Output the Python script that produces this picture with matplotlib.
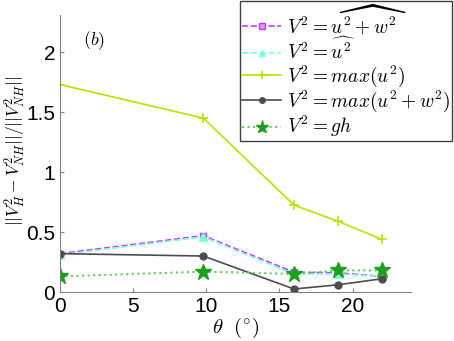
import matplotlib
matplotlib.use("Agg")
import matplotlib.pyplot as plt

plt.rcParams['mathtext.fontset'] = 'cm'
plt.rcParams['font.family'] = 'Liberation Sans'

theta = [0, 9.8, 16, 19, 22]
err_uw_mean = [0.32, 0.47, 0.165, 0.16, 0.13]
err_u_mean = [0.31, 0.46, 0.15, 0.15, 0.13]
err_u_max = [1.73, 1.45, 0.725, 0.59, 0.44]
err_uw_max = [0.32, 0.30, 0.025, 0.06, 0.11]
err_gh = [0.13, 0.17, 0.15, 0.18, 0.18]

fig = plt.figure(figsize=(4.54, 3.41), dpi=100)
ax = fig.add_axes([60/454, 49/341, 351/454, 277/341])

ax.plot(theta, err_uw_mean, '--s', color='#bf3fff', mfc='#dd99ff', ms=5, lw=1.2,
        label=r'$V^2=\widehat{u^2+w^2}$')
ax.plot(theta, err_u_mean, '--^', color='#7fffd4', ms=6, lw=1.2,
        label=r'$V^2=\widehat{u^2}$')
ax.plot(theta, err_u_max, '-+', color='#bfdf00', ms=7, mew=1.2, lw=1.2,
        label=r'$V^2=max(u^2)$')
ax.plot(theta, err_uw_max, '-o', color='#4d4d4d', ms=5, lw=1.2,
        label=r'$V^2=max(u^2+w^2)$')
ax.plot(theta, err_gh, ':', color='#5fcf5f', lw=1.5, marker='*', ms=12,
        mfc='#1f9f1f', mec='#1f9f1f', label=r'$V^2=gh$')

ax.set_xlim(0, 24)
ax.set_ylim(0, 2.31)
ax.set_xticks([0, 5, 10, 15, 20])
ax.set_yticks([0, 0.5, 1, 1.5, 2])
ax.set_yticklabels(['0', '0.5', '1', '1.5', '2'])
ax.tick_params(labelsize=15, direction='in', length=3, colors='#808080', labelcolor='black')
ax.spines['top'].set_visible(False)
ax.spines['right'].set_visible(False)
ax.spines['left'].set_color('#808080')
ax.spines['bottom'].set_color('#808080')

ax.set_xlabel(r'$\theta\ \ (^{\circ})$', fontsize=15, labelpad=0)
ax.set_ylabel(r'$||V_H^2-V_{NH}^2||/||V_{NH}^2||$', fontsize=12.5)
ax.yaxis.set_label_coords(-0.09, 0.51)
ax.text(1.6, 2.06, r'$(b)$', fontsize=13)

leg = fig.legend(loc='upper right', bbox_to_anchor=(452/454, 1 - 1/341), fontsize=14,
                 frameon=True, fancybox=False, edgecolor='#404040', framealpha=1,
                 handlelength=2.0, handletextpad=0.3, borderpad=0.1,
                 labelspacing=0.0, borderaxespad=0, markerscale=0.8)
leg.get_frame().set_linewidth(1.0)

fig.savefig('out.png', dpi=100)
